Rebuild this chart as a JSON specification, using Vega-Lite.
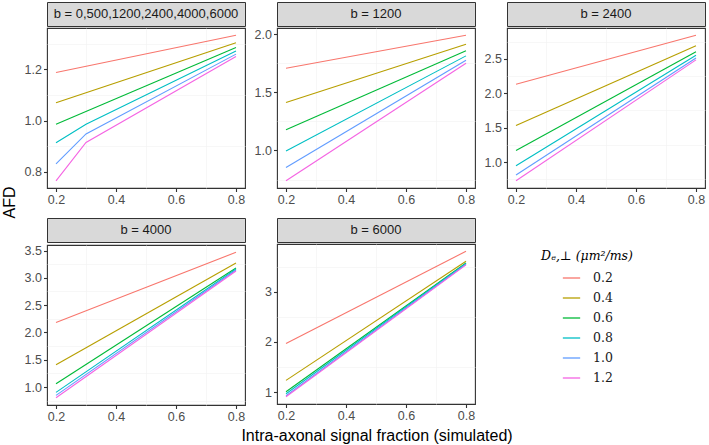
{
  "$schema": "https://vega.github.io/schema/vega-lite/v6.json",
  "padding": {"left": 2, "top": 1, "right": 2, "bottom": 1},
  "title": {"text": "AFD", "orient": "left", "anchor": "middle", "fontSize": 16, "fontWeight": "normal", "color": "#000000", "font": "Liberation Sans", "offset": 4, "dx": 20},
  "datasets": {
    "afd": [
      {"panel": "b = 0,500,1200,2400,4000,6000", "D": "0.2", "x": 0.2, "afd": 1.188},
      {"panel": "b = 0,500,1200,2400,4000,6000", "D": "0.2", "x": 0.8, "afd": 1.334},
      {"panel": "b = 0,500,1200,2400,4000,6000", "D": "0.4", "x": 0.2, "afd": 1.070},
      {"panel": "b = 0,500,1200,2400,4000,6000", "D": "0.4", "x": 0.8, "afd": 1.304},
      {"panel": "b = 0,500,1200,2400,4000,6000", "D": "0.6", "x": 0.2, "afd": 0.986},
      {"panel": "b = 0,500,1200,2400,4000,6000", "D": "0.6", "x": 0.8, "afd": 1.286},
      {"panel": "b = 0,500,1200,2400,4000,6000", "D": "0.8", "x": 0.2, "afd": 0.914},
      {"panel": "b = 0,500,1200,2400,4000,6000", "D": "0.8", "x": 0.3, "afd": 0.986},
      {"panel": "b = 0,500,1200,2400,4000,6000", "D": "0.8", "x": 0.8, "afd": 1.272},
      {"panel": "b = 0,500,1200,2400,4000,6000", "D": "1.0", "x": 0.2, "afd": 0.831},
      {"panel": "b = 0,500,1200,2400,4000,6000", "D": "1.0", "x": 0.3, "afd": 0.948},
      {"panel": "b = 0,500,1200,2400,4000,6000", "D": "1.0", "x": 0.8, "afd": 1.260},
      {"panel": "b = 0,500,1200,2400,4000,6000", "D": "1.2", "x": 0.2, "afd": 0.765},
      {"panel": "b = 0,500,1200,2400,4000,6000", "D": "1.2", "x": 0.3, "afd": 0.915},
      {"panel": "b = 0,500,1200,2400,4000,6000", "D": "1.2", "x": 0.8, "afd": 1.251},
      {"panel": "b = 1200", "D": "0.2", "x": 0.2, "afd": 1.708},
      {"panel": "b = 1200", "D": "0.2", "x": 0.8, "afd": 1.991},
      {"panel": "b = 1200", "D": "0.4", "x": 0.2, "afd": 1.412},
      {"panel": "b = 1200", "D": "0.4", "x": 0.8, "afd": 1.914},
      {"panel": "b = 1200", "D": "0.6", "x": 0.2, "afd": 1.178},
      {"panel": "b = 1200", "D": "0.6", "x": 0.8, "afd": 1.859},
      {"panel": "b = 1200", "D": "0.8", "x": 0.2, "afd": 0.995},
      {"panel": "b = 1200", "D": "0.8", "x": 0.8, "afd": 1.814},
      {"panel": "b = 1200", "D": "1.0", "x": 0.2, "afd": 0.854},
      {"panel": "b = 1200", "D": "1.0", "x": 0.8, "afd": 1.777},
      {"panel": "b = 1200", "D": "1.2", "x": 0.2, "afd": 0.740},
      {"panel": "b = 1200", "D": "1.2", "x": 0.8, "afd": 1.751},
      {"panel": "b = 2400", "D": "0.2", "x": 0.2, "afd": 2.132},
      {"panel": "b = 2400", "D": "0.2", "x": 0.8, "afd": 2.843},
      {"panel": "b = 2400", "D": "0.4", "x": 0.2, "afd": 1.531},
      {"panel": "b = 2400", "D": "0.4", "x": 0.8, "afd": 2.692},
      {"panel": "b = 2400", "D": "0.6", "x": 0.2, "afd": 1.168},
      {"panel": "b = 2400", "D": "0.6", "x": 0.8, "afd": 2.605},
      {"panel": "b = 2400", "D": "0.8", "x": 0.2, "afd": 0.946},
      {"panel": "b = 2400", "D": "0.8", "x": 0.8, "afd": 2.553},
      {"panel": "b = 2400", "D": "1.0", "x": 0.2, "afd": 0.811},
      {"panel": "b = 2400", "D": "1.0", "x": 0.8, "afd": 2.514},
      {"panel": "b = 2400", "D": "1.2", "x": 0.2, "afd": 0.729},
      {"panel": "b = 2400", "D": "1.2", "x": 0.8, "afd": 2.485},
      {"panel": "b = 4000", "D": "0.2", "x": 0.2, "afd": 2.183},
      {"panel": "b = 4000", "D": "0.2", "x": 0.8, "afd": 3.468},
      {"panel": "b = 4000", "D": "0.4", "x": 0.2, "afd": 1.408},
      {"panel": "b = 4000", "D": "0.4", "x": 0.8, "afd": 3.272},
      {"panel": "b = 4000", "D": "0.6", "x": 0.2, "afd": 1.061},
      {"panel": "b = 4000", "D": "0.6", "x": 0.8, "afd": 3.181},
      {"panel": "b = 4000", "D": "0.8", "x": 0.2, "afd": 0.903},
      {"panel": "b = 4000", "D": "0.8", "x": 0.8, "afd": 3.163},
      {"panel": "b = 4000", "D": "1.0", "x": 0.2, "afd": 0.848},
      {"panel": "b = 4000", "D": "1.0", "x": 0.8, "afd": 3.144},
      {"panel": "b = 4000", "D": "1.2", "x": 0.2, "afd": 0.805},
      {"panel": "b = 4000", "D": "1.2", "x": 0.8, "afd": 3.126},
      {"panel": "b = 6000", "D": "0.2", "x": 0.2, "afd": 1.970},
      {"panel": "b = 6000", "D": "0.2", "x": 0.8, "afd": 3.809},
      {"panel": "b = 6000", "D": "0.4", "x": 0.2, "afd": 1.233},
      {"panel": "b = 6000", "D": "0.4", "x": 0.8, "afd": 3.610},
      {"panel": "b = 6000", "D": "0.6", "x": 0.2, "afd": 1.006},
      {"panel": "b = 6000", "D": "0.6", "x": 0.8, "afd": 3.576},
      {"panel": "b = 6000", "D": "0.8", "x": 0.2, "afd": 0.966},
      {"panel": "b = 6000", "D": "0.8", "x": 0.8, "afd": 3.564},
      {"panel": "b = 6000", "D": "1.0", "x": 0.2, "afd": 0.926},
      {"panel": "b = 6000", "D": "1.0", "x": 0.8, "afd": 3.550},
      {"panel": "b = 6000", "D": "1.2", "x": 0.2, "afd": 0.906},
      {"panel": "b = 6000", "D": "1.2", "x": 0.8, "afd": 3.537}
    ]
  },
  "vconcat": [
    {
      "title": {"text": "Intra-axonal signal fraction (simulated)", "orient": "bottom", "anchor": "middle", "fontSize": 16, "fontWeight": "normal", "color": "#000000", "font": "Liberation Sans", "offset": 4, "dx": 13},
      "columns": 3,
      "spacing": {"row": 10, "column": 6},
      "concat": [
        {
          "spacing": 0,
          "vconcat": [
            {"width": 198, "height": 24, "view": {"fill": "#D9D9D9", "stroke": "#333333"},
             "data": {"values": [{"label": "b = 0,500,1200,2400,4000,6000"}]},
             "mark": {"type": "text", "fontSize": 13, "color": "#1A1A1A"},
             "encoding": {"text": {"field": "label"}}},
            {"width": 198, "height": 160,
             "data": {"name": "afd"},
             "transform": [{"filter": "datum.panel == 'b = 0,500,1200,2400,4000,6000'"}],
             "layer": [
               {"mark": {"type": "line", "opacity": 0},
                "encoding": {
                  "x": {"field": "x", "type": "quantitative", "scale": {"domain": [0.17, 0.83], "nice": false},
                        "axis": {"orient": "bottom", "values": [0.3, 0.5, 0.7], "labels": false, "ticks": false, "domain": false, "gridColor": "#F2F2F2", "gridWidth": 0.6, "title": null, "minExtent": 0, "maxExtent": 0}},
                  "y": {"field": "afd", "type": "quantitative", "scale": {"domain": [0.737, 1.362], "nice": false, "zero": false},
                        "axis": {"orient": "left", "values": [0.9, 1.1, 1.3], "labels": false, "ticks": false, "domain": false, "gridColor": "#F2F2F2", "gridWidth": 0.6, "title": null, "minExtent": 0, "maxExtent": 0}}
                }},
               {"mark": {"type": "line", "strokeWidth": 1.1},
                "encoding": {
                  "x": {"field": "x", "type": "quantitative", "axis": {"orient": "bottom", "values": [0.2, 0.4, 0.6, 0.8], "format": ".1f", "title": null}},
                  "y": {"field": "afd", "type": "quantitative", "axis": {"orient": "left", "values": [0.8, 1.0, 1.2], "format": ".1f", "title": null}},
                  "color": {"field": "D", "type": "nominal", "title": "Dₑ,⊥ (μm²/ms)",
                            "scale": {"domain": ["0.2", "0.4", "0.6", "0.8", "1.0", "1.2"], "range": ["#F8766D", "#B79F00", "#00BA38", "#00BFC4", "#619CFF", "#F564E3"]},
                            "legend": {"orient": "none", "legendX": 494, "legendY": 248}}
                }}
             ],
             "resolve": {"axis": {"x": "independent", "y": "independent"}}}
          ]
        },
        {
          "spacing": 0,
          "vconcat": [
            {"width": 198, "height": 24, "view": {"fill": "#D9D9D9", "stroke": "#333333"},
             "data": {"values": [{"label": "b = 1200"}]},
             "mark": {"type": "text", "fontSize": 13, "color": "#1A1A1A"},
             "encoding": {"text": {"field": "label"}}},
            {"width": 198, "height": 160,
             "data": {"name": "afd"},
             "transform": [{"filter": "datum.panel == 'b = 1200'"}],
             "layer": [
               {"mark": {"type": "line", "opacity": 0},
                "encoding": {
                  "x": {"field": "x", "type": "quantitative", "scale": {"domain": [0.17, 0.83], "nice": false},
                        "axis": {"orient": "bottom", "values": [0.3, 0.5, 0.7], "labels": false, "ticks": false, "domain": false, "gridColor": "#F2F2F2", "gridWidth": 0.6, "title": null, "minExtent": 0, "maxExtent": 0}},
                  "y": {"field": "afd", "type": "quantitative", "scale": {"domain": [0.677, 2.054], "nice": false, "zero": false},
                        "axis": {"orient": "left", "values": [0.75, 1.25, 1.75], "labels": false, "ticks": false, "domain": false, "gridColor": "#F2F2F2", "gridWidth": 0.6, "title": null, "minExtent": 0, "maxExtent": 0}}
                }},
               {"mark": {"type": "line", "strokeWidth": 1.1},
                "encoding": {
                  "x": {"field": "x", "type": "quantitative", "axis": {"orient": "bottom", "values": [0.2, 0.4, 0.6, 0.8], "format": ".1f", "title": null}},
                  "y": {"field": "afd", "type": "quantitative", "axis": {"orient": "left", "values": [1.0, 1.5, 2.0], "format": ".1f", "title": null}},
                  "color": {"field": "D", "type": "nominal", "title": "Dₑ,⊥ (μm²/ms)",
                            "scale": {"domain": ["0.2", "0.4", "0.6", "0.8", "1.0", "1.2"], "range": ["#F8766D", "#B79F00", "#00BA38", "#00BFC4", "#619CFF", "#F564E3"]},
                            "legend": {"orient": "none", "legendX": 494, "legendY": 248}}
                }}
             ],
             "resolve": {"axis": {"x": "independent", "y": "independent"}}}
          ]
        },
        {
          "spacing": 0,
          "vconcat": [
            {"width": 198, "height": 24, "view": {"fill": "#D9D9D9", "stroke": "#333333"},
             "data": {"values": [{"label": "b = 2400"}]},
             "mark": {"type": "text", "fontSize": 13, "color": "#1A1A1A"},
             "encoding": {"text": {"field": "label"}}},
            {"width": 198, "height": 160,
             "data": {"name": "afd"},
             "transform": [{"filter": "datum.panel == 'b = 2400'"}],
             "layer": [
               {"mark": {"type": "line", "opacity": 0},
                "encoding": {
                  "x": {"field": "x", "type": "quantitative", "scale": {"domain": [0.17, 0.83], "nice": false},
                        "axis": {"orient": "bottom", "values": [0.3, 0.5, 0.7], "labels": false, "ticks": false, "domain": false, "gridColor": "#F2F2F2", "gridWidth": 0.6, "title": null, "minExtent": 0, "maxExtent": 0}},
                  "y": {"field": "afd", "type": "quantitative", "scale": {"domain": [0.623, 2.949], "nice": false, "zero": false},
                        "axis": {"orient": "left", "values": [0.75, 1.25, 1.75, 2.25, 2.75], "labels": false, "ticks": false, "domain": false, "gridColor": "#F2F2F2", "gridWidth": 0.6, "title": null, "minExtent": 0, "maxExtent": 0}}
                }},
               {"mark": {"type": "line", "strokeWidth": 1.1},
                "encoding": {
                  "x": {"field": "x", "type": "quantitative", "axis": {"orient": "bottom", "values": [0.2, 0.4, 0.6, 0.8], "format": ".1f", "title": null}},
                  "y": {"field": "afd", "type": "quantitative", "axis": {"orient": "left", "values": [1.0, 1.5, 2.0, 2.5], "format": ".1f", "title": null}},
                  "color": {"field": "D", "type": "nominal", "title": "Dₑ,⊥ (μm²/ms)",
                            "scale": {"domain": ["0.2", "0.4", "0.6", "0.8", "1.0", "1.2"], "range": ["#F8766D", "#B79F00", "#00BA38", "#00BFC4", "#619CFF", "#F564E3"]},
                            "legend": {"orient": "none", "legendX": 494, "legendY": 248}}
                }}
             ],
             "resolve": {"axis": {"x": "independent", "y": "independent"}}}
          ]
        },
        {
          "spacing": 0,
          "vconcat": [
            {"width": 198, "height": 24, "view": {"fill": "#D9D9D9", "stroke": "#333333"},
             "data": {"values": [{"label": "b = 4000"}]},
             "mark": {"type": "text", "fontSize": 13, "color": "#1A1A1A"},
             "encoding": {"text": {"field": "label"}}},
            {"width": 198, "height": 160,
             "data": {"name": "afd"},
             "transform": [{"filter": "datum.panel == 'b = 4000'"}],
             "layer": [
               {"mark": {"type": "line", "opacity": 0},
                "encoding": {
                  "x": {"field": "x", "type": "quantitative", "scale": {"domain": [0.17, 0.83], "nice": false},
                        "axis": {"orient": "bottom", "values": [0.3, 0.5, 0.7], "labels": false, "ticks": false, "domain": false, "gridColor": "#F2F2F2", "gridWidth": 0.6, "title": null, "minExtent": 0, "maxExtent": 0}},
                  "y": {"field": "afd", "type": "quantitative", "scale": {"domain": [0.672, 3.601], "nice": false, "zero": false},
                        "axis": {"orient": "left", "values": [0.75, 1.25, 1.75, 2.25, 2.75, 3.25], "labels": false, "ticks": false, "domain": false, "gridColor": "#F2F2F2", "gridWidth": 0.6, "title": null, "minExtent": 0, "maxExtent": 0}}
                }},
               {"mark": {"type": "line", "strokeWidth": 1.1},
                "encoding": {
                  "x": {"field": "x", "type": "quantitative", "axis": {"orient": "bottom", "values": [0.2, 0.4, 0.6, 0.8], "format": ".1f", "title": null}},
                  "y": {"field": "afd", "type": "quantitative", "axis": {"orient": "left", "values": [1.0, 1.5, 2.0, 2.5, 3.0, 3.5], "format": ".1f", "title": null}},
                  "color": {"field": "D", "type": "nominal", "title": "Dₑ,⊥ (μm²/ms)",
                            "scale": {"domain": ["0.2", "0.4", "0.6", "0.8", "1.0", "1.2"], "range": ["#F8766D", "#B79F00", "#00BA38", "#00BFC4", "#619CFF", "#F564E3"]},
                            "legend": {"orient": "none", "legendX": 494, "legendY": 248}}
                }}
             ],
             "resolve": {"axis": {"x": "independent", "y": "independent"}}}
          ]
        },
        {
          "spacing": 0,
          "vconcat": [
            {"width": 198, "height": 24, "view": {"fill": "#D9D9D9", "stroke": "#333333"},
             "data": {"values": [{"label": "b = 6000"}]},
             "mark": {"type": "text", "fontSize": 13, "color": "#1A1A1A"},
             "encoding": {"text": {"field": "label"}}},
            {"width": 198, "height": 160,
             "data": {"name": "afd"},
             "transform": [{"filter": "datum.panel == 'b = 6000'"}],
             "layer": [
               {"mark": {"type": "line", "opacity": 0},
                "encoding": {
                  "x": {"field": "x", "type": "quantitative", "scale": {"domain": [0.17, 0.83], "nice": false},
                        "axis": {"orient": "bottom", "values": [0.3, 0.5, 0.7], "labels": false, "ticks": false, "domain": false, "gridColor": "#F2F2F2", "gridWidth": 0.6, "title": null, "minExtent": 0, "maxExtent": 0}},
                  "y": {"field": "afd", "type": "quantitative", "scale": {"domain": [0.761, 3.954], "nice": false, "zero": false},
                        "axis": {"orient": "left", "values": [1.5, 2.5, 3.5], "labels": false, "ticks": false, "domain": false, "gridColor": "#F2F2F2", "gridWidth": 0.6, "title": null, "minExtent": 0, "maxExtent": 0}}
                }},
               {"mark": {"type": "line", "strokeWidth": 1.1},
                "encoding": {
                  "x": {"field": "x", "type": "quantitative", "axis": {"orient": "bottom", "values": [0.2, 0.4, 0.6, 0.8], "format": ".1f", "title": null}},
                  "y": {"field": "afd", "type": "quantitative", "axis": {"orient": "left", "values": [1, 2, 3], "format": "d", "title": null}},
                  "color": {"field": "D", "type": "nominal", "title": "Dₑ,⊥ (μm²/ms)",
                            "scale": {"domain": ["0.2", "0.4", "0.6", "0.8", "1.0", "1.2"], "range": ["#F8766D", "#B79F00", "#00BA38", "#00BFC4", "#619CFF", "#F564E3"]},
                            "legend": {"orient": "none", "legendX": 494, "legendY": 248}}
                }}
             ],
             "resolve": {"axis": {"x": "independent", "y": "independent"}}}
          ]
        }
      ]
    }
  ],
  "config": {
    "font": "Liberation Sans",
    "view": {"stroke": "#333333", "strokeWidth": 1.1},
    "axis": {"domain": false, "gridColor": "#EBEBEB", "gridWidth": 1.1, "tickColor": "#333333", "tickSize": 3.5, "tickWidth": 1.1, "labelColor": "#4D4D4D", "labelFontSize": 12.5, "labelPadding": 2, "labelFont": "Liberation Sans", "titleFont": "Liberation Sans", "titleFontWeight": "normal", "titleColor": "#000000", "titleFontSize": 15},
    "axisX": {"minExtent": 18, "maxExtent": 18},
    "axisY": {"minExtent": 24, "maxExtent": 24},
    "legend": {"titleFont": "DejaVu Serif", "titleFontStyle": "italic", "titleFontWeight": "normal", "titleFontSize": 12.5, "titleColor": "#000000", "titleAnchor": "middle", "titlePadding": 6,
               "labelFont": "DejaVu Serif", "labelFontSize": 12.5, "labelColor": "#1A1A1A", "labelOffset": 12,
               "symbolType": "stroke", "symbolSize": 300, "symbolStrokeWidth": 1.3, "rowPadding": 4}
  }
}
